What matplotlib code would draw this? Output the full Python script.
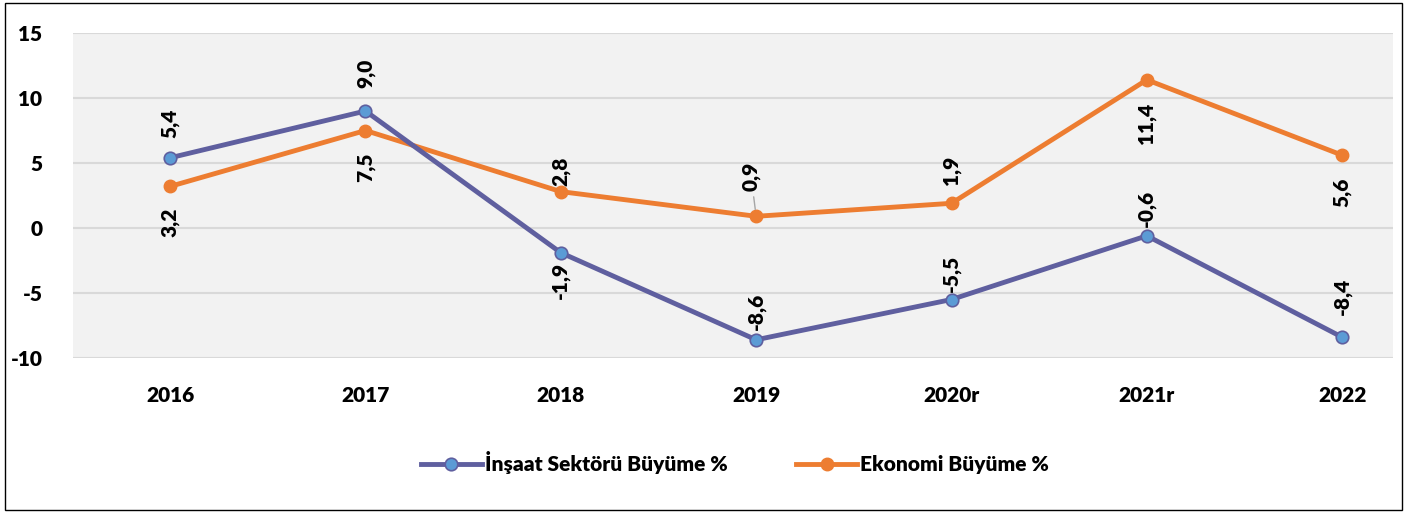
import matplotlib.pyplot as plt
from matplotlib.patches import Rectangle

years = ['2016', '2017', '2018', '2019', '2020r', '2021r', '2022']
insaat = [5.4, 9.0, -1.9, -8.6, -5.5, -0.6, -8.4]
ekonomi = [3.2, 7.5, 2.8, 0.9, 1.9, 11.4, 5.6]
y_ticks = [-10, -5, 0, 5, 10, 15]

# label placement (pixels, + above the point, - below)
insaat_gap = [20, 23, -9, 10, 8, 9, 22]
ekonomi_gap = [-21, -22, 6, 25, 18, -23, -22]

purple = '#5f5f9f'
blue = '#5b9bd5'
orange = '#ed7d31'

plt.rcParams['font.family'] = ['Lato', 'DejaVu Sans']
plt.rcParams['font.weight'] = 'heavy'
plt.rcParams['axes.unicode_minus'] = False

fig = plt.figure(figsize=(14.11, 5.12), dpi=100)
ax = fig.add_axes([73 / 1411, 1 - 358 / 512, 1320 / 1411, 325 / 512])
ax.set_facecolor('#f2f2f2')

x = list(range(len(years)))
ax.plot(x, ekonomi, color=orange, lw=3.5, marker='o', ms=9,
        mfc=orange, mec=orange, label='Ekonomi Büyüme %', zorder=3)
ax.plot(x, insaat, color=purple, lw=3.5, marker='o', ms=9,
        mfc=blue, mec=purple, mew=1.2, label='İnşaat Sektörü Büyüme %', zorder=4)


def fmt(v):
    return f'{v:.1f}'.replace('.', ',')


for xi, v, g in zip(x, insaat, insaat_gap):
    ax.annotate(fmt(v), (xi, v), xytext=(0, g), textcoords='offset pixels',
                rotation=90, ha='center', va='bottom' if g > 0 else 'top',
                fontsize=15, zorder=5)

for xi, v, g in zip(x, ekonomi, ekonomi_gap):
    if g == 25:
        ax.annotate(fmt(v), (xi, v), xytext=(-5, g), textcoords='offset pixels',
                    rotation=90, ha='center', va='bottom',
                    fontsize=15, zorder=5,
                    arrowprops=dict(arrowstyle='-', color='#a6a6a6', lw=1,
                                    shrinkA=2, shrinkB=5))
        continue
    ax.annotate(fmt(v), (xi, v), xytext=(0, g), textcoords='offset pixels',
                rotation=90, ha='center', va='bottom' if g > 0 else 'top',
                fontsize=15, zorder=5)

ax.set_ylim(-10, 15)
ax.set_xlim(-0.497, 6.26)
ax.set_yticks(y_ticks)
ax.set_xticks(x)
ax.set_xticklabels(years)
ax.tick_params(length=0, labelsize=15)
ax.tick_params(axis='x', pad=20)
ax.tick_params(axis='y', pad=22)
for s in ax.spines.values():
    s.set_visible(False)
ax.grid(axis='y', color='#d9d9d9', lw=1.5)
ax.set_axisbelow(True)

h, l = ax.get_legend_handles_labels()
fig.legend(h[::-1], l[::-1], loc='center', bbox_to_anchor=(735 / 1411, 1 - 463 / 512),
           ncol=2, frameon=False, fontsize=15, handlelength=2.9,
           handletextpad=0.15, columnspacing=3.3)

fig.patches.append(Rectangle((5 / 1411, 2 / 512), 1397 / 1411, 507 / 512,
                             transform=fig.transFigure, fill=False,
                             edgecolor='black', lw=1))

fig.savefig('out.png', dpi=100)
